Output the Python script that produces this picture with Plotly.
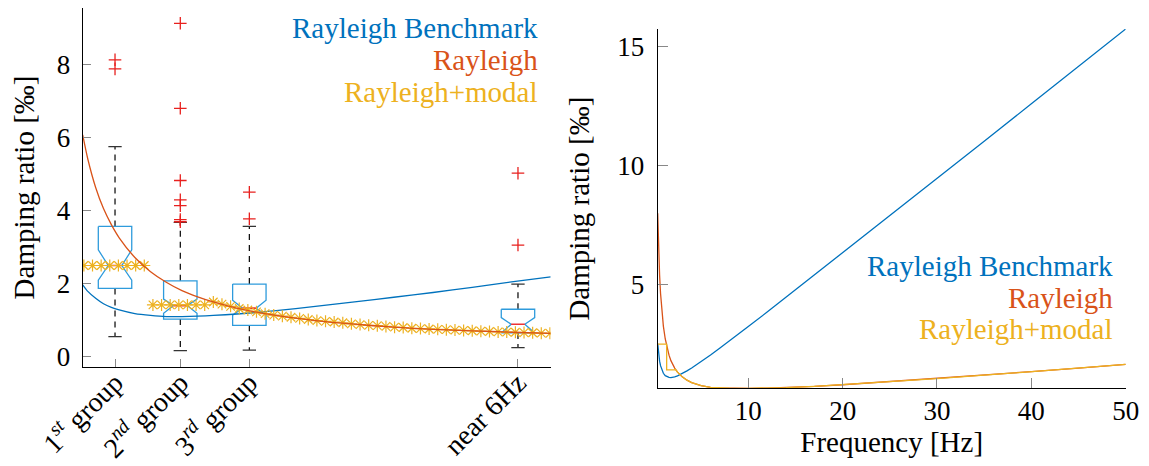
import plotly.graph_objects as go

# ---------------- Left panel data (damping ratio in per mille) ----------------
group_labels = ["1<sup><i>st</i></sup> group", "2<sup><i>nd</i></sup> group",
                "3<sup><i>rd</i></sup> group", "near 6Hz"]
group_freq = [0.947, 1.779, 2.659, 6.083]
box_lower = [0.55, 0.165, 0.18, 0.25]
box_q1 = [1.87, 1.03, 0.86, 0.65]
box_notch_lo = [2.10, 1.19, 1.14, 0.65]
box_median = [2.50, 1.40, 1.33, 0.89]
box_notch_hi = [2.93, 1.58, 1.55, 1.07]
box_q3 = [3.57, 2.08, 1.99, 1.30]
box_upper = [5.76, 3.68, 3.57, 1.99]
outliers = [[8.14, 7.89],
            [9.14, 6.81, 4.83, 4.30, 4.14, 3.76, 3.70],
            [4.51, 3.78],
            [5.03, 3.06]]

left_freq = [0.535, 0.6, 0.7, 0.8, 0.9, 1.0, 1.2, 1.4, 1.6, 1.8, 2.0, 2.2, 2.5,
             3.0, 3.5, 4.0, 4.5, 5.0, 5.5, 6.0, 6.5]
left_bench = [1.97, 1.79, 1.60, 1.45, 1.35, 1.28, 1.18, 1.13, 1.10, 1.10, 1.11,
              1.13, 1.17, 1.26, 1.38, 1.50, 1.63, 1.76, 1.90, 2.05, 2.19]
left_rayleigh = [6.08, 5.42, 4.64, 4.06, 3.62, 3.26, 2.72, 2.33, 2.04, 1.81, 1.64,
                 1.50, 1.33, 1.13, 0.99, 0.89, 0.81, 0.75, 0.71, 0.67, 0.64]

modal_freq = [0.55, 0.66, 0.77, 0.88, 0.99, 1.10, 1.21, 1.32, 1.43, 1.54, 1.65,
              1.76, 1.87, 1.98, 2.09, 2.20, 2.31, 2.42, 2.53, 2.64, 2.75, 2.86,
              2.97, 3.08, 3.19, 3.30, 3.41, 3.52, 3.63, 3.74, 3.85, 3.96, 4.07,
              4.18, 4.29, 4.40, 4.51, 4.62, 4.73, 4.84, 4.95, 5.06, 5.17, 5.28,
              5.39, 5.50, 5.61, 5.72, 5.83, 5.94, 6.05, 6.16, 6.27, 6.38, 6.49]
modal_vals = [2.50, 2.50, 2.50, 2.50, 2.50, 2.50, 2.50, 2.50, 1.42, 1.42, 1.42,
              1.42, 1.42, 1.42, 1.42, 1.50, 1.44, 1.38, 1.32, 1.28, 1.23, 1.18,
              1.14, 1.11, 1.08, 1.05, 1.02, 0.99, 0.97, 0.95, 0.93, 0.90, 0.88,
              0.86, 0.85, 0.83, 0.81, 0.80, 0.78, 0.77, 0.76, 0.75, 0.74, 0.73,
              0.72, 0.71, 0.70, 0.69, 0.68, 0.675, 0.67, 0.66, 0.655, 0.645, 0.64]

# ---------------- Right panel data ----------------
right_freq = [0.4, 0.45, 0.5, 0.6, 0.7, 0.8, 0.9, 1.0, 1.2, 1.4, 1.6, 1.8, 2.0, 2.2,
              2.5, 3, 3.5, 4, 5, 6, 7, 8, 10, 12, 14, 17, 20, 25, 30, 35, 40, 45, 50]
right_bench = [2.53, 2.28, 2.08, 1.79, 1.60, 1.46, 1.35, 1.28, 1.18, 1.13, 1.11,
               1.10, 1.11, 1.13, 1.17, 1.26, 1.38, 1.50, 1.76, 2.05, 2.34, 2.63,
               3.24, 3.85, 4.47, 5.40, 6.33, 7.89, 9.46, 11.02, 12.59, 14.16, 15.73]
right_rayleigh = [8.0, 7.13, 6.45, 5.40, 4.64, 4.06, 3.62, 3.26, 2.72, 2.33, 2.04,
                  1.81, 1.64, 1.50, 1.33, 1.13, 0.99, 0.89, 0.76, 0.69, 0.665, 0.655,
                  0.65, 0.66, 0.68, 0.73, 0.80, 0.93, 1.06, 1.20, 1.35, 1.50, 1.65]
modal_r_freq = [0.4, 1.35, 1.35, 2.25, 2.25, 2.5, 3, 3.5, 4, 5, 6, 7, 8, 10, 12, 14,
                17, 20, 25, 30, 35, 40, 45, 50]
modal_r_vals = [2.5, 2.5, 1.42, 1.42, 1.47, 1.33, 1.13, 0.99, 0.89, 0.76, 0.69,
                0.665, 0.655, 0.65, 0.66, 0.68, 0.73, 0.80, 0.93, 1.06, 1.20, 1.35,
                1.50, 1.65]

# ---------------- Styles ----------------
BLUE = "#0072BD"
ORANGE = "#D95319"
YELLOW = "#EDB120"
BOXBLUE = "#2E9BDC"
MEDRED = "#EE3333"
OUTRED = "#E8201E"
FONT = "Liberation Serif"
half_w = 0.213      # half box width in Hz
notch_w = 0.087     # half width at notch
cap_w = 0.085       # half cap width
W, H, OFF = 1149, 466, 8   # page offset of the plot div


def px(x):
    return (x - OFF) / W


def py(y):
    return 1 - (y - OFF) / H


fig = go.Figure()

for i, c in enumerate(group_freq):
    for a, b in ((box_q3[i], box_upper[i]), (box_q1[i], box_lower[i])):
        fig.add_trace(go.Scatter(x=[c, c], y=[a, b], mode="lines",
                                 line=dict(color="black", width=1.2, dash="6px,5px"),
                                 showlegend=False, hoverinfo="skip"))
    for v in (box_upper[i], box_lower[i]):
        fig.add_trace(go.Scatter(x=[c - cap_w, c + cap_w], y=[v, v], mode="lines",
                                 line=dict(color="#333333", width=1.3),
                                 showlegend=False, hoverinfo="skip"))
    bx = [c - half_w, c + half_w, c + half_w, c + notch_w, c + half_w, c + half_w,
          c - half_w, c - half_w, c - notch_w, c - half_w, c - half_w]
    by = [box_q3[i], box_q3[i], box_notch_hi[i], box_median[i], box_notch_lo[i],
          box_q1[i], box_q1[i], box_notch_lo[i], box_median[i], box_notch_hi[i],
          box_q3[i]]
    fig.add_trace(go.Scatter(x=bx, y=by, mode="lines",
                             line=dict(color=BOXBLUE, width=1.3),
                             showlegend=False, hoverinfo="skip"))
    fig.add_trace(go.Scatter(x=[c - notch_w, c + notch_w],
                             y=[box_median[i], box_median[i]], mode="lines",
                             line=dict(color=MEDRED, width=1.6),
                             showlegend=False, hoverinfo="skip"))
    fig.add_trace(go.Scatter(x=[c] * len(outliers[i]), y=outliers[i], mode="markers",
                             marker=dict(symbol="cross-thin-open", size=9, color=OUTRED,
                                         line=dict(color=OUTRED, width=1.3)),
                             showlegend=False, hoverinfo="skip"))

# Left curves
fig.add_trace(go.Scatter(x=left_freq, y=left_bench, mode="lines", name="Rayleigh Benchmark",
                         line=dict(color=BLUE, width=1.3, shape="spline", smoothing=0.6),
                         showlegend=False))
fig.add_trace(go.Scatter(x=modal_freq, y=modal_vals, mode="markers", name="Rayleigh+modal",
                         marker=dict(symbol="asterisk-open", size=10, color=YELLOW,
                                     line=dict(color=YELLOW, width=1.2)),
                         showlegend=False))
fig.add_trace(go.Scatter(x=left_freq, y=left_rayleigh, mode="lines", name="Rayleigh",
                         line=dict(color=ORANGE, width=1.3, shape="spline", smoothing=0.6),
                         showlegend=False))

# Right curves
fig.add_trace(go.Scatter(x=right_freq, y=right_bench, mode="lines", name="Rayleigh Benchmark",
                         line=dict(color=BLUE, width=1.3), xaxis="x2", yaxis="y2",
                         showlegend=False))
fig.add_trace(go.Scatter(x=right_freq, y=right_rayleigh, mode="lines", name="Rayleigh",
                         line=dict(color=ORANGE, width=1.3), xaxis="x2", yaxis="y2",
                         showlegend=False))
fig.add_trace(go.Scatter(x=modal_r_freq, y=modal_r_vals, mode="lines", name="Rayleigh+modal",
                         line=dict(color=YELLOW, width=1.3), xaxis="x2", yaxis="y2",
                         showlegend=False))

axis_common = dict(showline=True, linecolor="black", linewidth=1.3, mirror=False,
                   showgrid=False, zeroline=False, ticks="inside", tickcolor="#888888",
                   tickwidth=1, automargin=False)
tickfont = dict(family=FONT, size=27, color="black")

fig.update_layout(
    template="none",
    width=W, height=H,
    margin=dict(l=0, r=0, t=0, b=0, autoexpand=False),
    paper_bgcolor="white", plot_bgcolor="white",
    font=dict(family=FONT, size=27, color="black"),
    xaxis=dict(domain=[px(82.7), px(550.7)], range=[0.535, 6.5], tickvals=group_freq,
               ticktext=group_labels, tickangle=-45, ticklen=8, ticklabelstandoff=-13,
               tickfont=dict(family=FONT, size=28, color="black"), **axis_common),
    yaxis=dict(domain=[py(367), 1.0], range=[-0.283, 9.56], tickvals=[0, 2, 4, 6, 8],
               ticklen=8, ticklabelstandoff=6, tickfont=tickfont,
               title=dict(text="Damping ratio [‰]", font=dict(family=FONT, size=29),
                          standoff=15), **axis_common),
    xaxis2=dict(domain=[px(657.7), px(1125.7)], range=[0.4, 50],
                tickvals=[10, 20, 30, 40, 50], tickfont=tickfont,
                anchor="y2", ticklen=10, ticklabelstandoff=-2,
                title=dict(text="Frequency [Hz]", font=dict(family=FONT, size=29),
                           standoff=0), **axis_common),
    yaxis2=dict(domain=[py(388.3), py(29)], range=[0.65, 15.73], tickvals=[5, 10, 15],
                anchor="x2", ticklen=10, ticklabelstandoff=7, tickfont=tickfont,
                title=dict(text="Damping ratio [‰]", font=dict(family=FONT, size=29),
                           standoff=18), **axis_common),
)

legend_items = [("Rayleigh Benchmark", BLUE), ("Rayleigh", ORANGE), ("Rayleigh+modal", YELLOW)]
left_legend_y = [28, 60, 92]
right_legend_y = [266, 298, 329]
for (txt, col), yl, yr in zip(legend_items, left_legend_y, right_legend_y):
    fig.add_annotation(text=txt, x=px(539.5), y=py(yl), xref="paper", yref="paper",
                       xanchor="right", yanchor="middle", showarrow=False,
                       font=dict(family=FONT, size=29, color=col))
    fig.add_annotation(text=txt, x=px(1115), y=py(yr), xref="paper", yref="paper",
                       xanchor="right", yanchor="middle", showarrow=False,
                       font=dict(family=FONT, size=29, color=col))

fig.write_html("out.html")
